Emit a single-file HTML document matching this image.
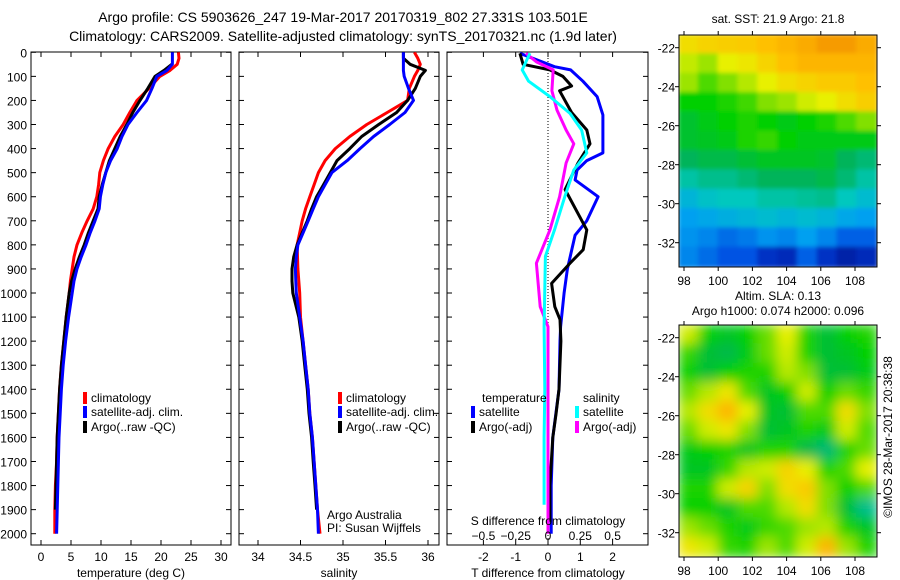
<!DOCTYPE html>
<html><head><meta charset="utf-8">
<style>
html,body{margin:0;padding:0;background:#fff;}
svg{display:block;font-family:"Liberation Sans",sans-serif;}
</style></head>
<body>
<svg id="fig" width="900" height="580" viewBox="0 0 900 580" xmlns="http://www.w3.org/2000/svg">
<defs>
<filter id="blur1" x="0" y="0" width="1" height="1"><feGaussianBlur stdDeviation="2"/></filter>
<filter id="blur2" x="0" y="0" width="1" height="1"><feGaussianBlur stdDeviation="6"/></filter>
<clipPath id="cm1"><rect x="679" y="35" width="198" height="232"/></clipPath>
<clipPath id="cm2"><rect x="679" y="325" width="198" height="232"/></clipPath>
<clipPath id="cp1"><rect x="31" y="52" width="200" height="493"/></clipPath>
<clipPath id="cp2"><rect x="239" y="52" width="200" height="493"/></clipPath>
<clipPath id="cp3"><rect x="447" y="52" width="201" height="493"/></clipPath>
</defs>
<text x="343" y="22" font-size="14" text-anchor="middle">Argo profile: CS 5903626_247 19-Mar-2017 20170319_802 27.331S 103.501E</text>
<text x="343" y="41" font-size="14" text-anchor="middle">Climatology: CARS2009. Satellite-adjusted climatology: synTS_20170321.nc (1.9d later)</text>
<g id="layer"></g>
</svg>
<script>
// ---- profile data ----
const depths = [0,25,50,75,100,150,200,250,300,350,400,450,500,550,600,650,700,750,800,850,900,950,1000,1100,1200,1300,1400,1500,1600,1700,1800,1900,2000];
const tempClim = [22.9,23,22.7,21.5,19.8,18,16,14.8,13.7,12.3,11.2,10.4,9.8,9.6,9.3,8.7,7.7,6.8,6,5.5,5.2,4.9,4.7,4.2,3.8,3.4,3.1,2.9,2.7,2.6,2.4,2.3,2.3];
const tempSat = [21.9,21.9,21.9,21,19.3,18.5,17.6,16,14.5,13.5,12.7,11.6,10.8,10.3,9.9,9.7,9,8.2,7.5,6.7,6,5.5,5.2,4.6,4.1,3.7,3.4,3.2,3.0,2.9,2.8,2.7,2.6];
const tempArgo = [null,null,21.8,20.5,19,17.8,16.5,15.3,14.3,13.2,12.3,11.4,10.8,10.2,9.7,9.5,8.7,7.9,7.2,6.4,5.7,5.1,4.7,4.2,3.8,3.4,3.1,2.9,2.7,2.6,2.5,2.4,null];
const salClim = [35.84,35.88,35.91,35.88,35.84,35.78,35.76,35.52,35.28,35.08,34.91,34.79,34.71,34.66,34.61,34.56,34.52,34.49,34.46,34.465,34.47,34.48,34.49,34.5,34.53,34.56,34.59,34.61,34.64,34.66,34.68,34.7,34.73];
const salSat = [35.71,35.71,35.71,35.71,35.72,35.77,35.83,35.73,35.55,35.36,35.2,35.05,34.87,34.79,34.71,34.65,34.59,34.53,34.47,34.45,34.44,34.445,34.45,34.49,34.53,34.56,34.59,34.61,34.64,34.66,34.68,34.7,34.71];
const salArgo = [35.71,35.71,35.79,35.97,35.91,35.85,35.76,35.63,35.42,35.22,35.08,34.93,34.85,34.77,34.69,34.63,34.58,34.52,34.46,34.42,34.4,34.4,34.41,34.48,34.52,34.55,34.58,34.6,34.63,34.65,34.67,34.69,null];
// difference profiles (own depth arrays)
const dtSatDepth = [4,60,73,120,184,260,418,450,489,530,600,700,760,900,1000,1140,1200,1400,1600,1800,2000];
const dtSatVal = [-0.87,0.2,0.7,1.08,1.52,1.7,1.7,1.2,0.9,0.84,1.55,1.2,0.84,0.6,0.5,0.39,0.37,0.34,0.15,0.1,0.1];
const dtArgoDepth = [4,50,73,100,140,160,250,323,380,460,570,738,820,876,960,1057,1110,1200,1400,1500,1600,1800,1950];
const dtArgoVal = [-0.87,-0.77,0.06,0.46,0.73,0.36,0.73,1.2,1.3,0.93,0.53,1.2,1.09,0.68,0.11,0.21,0.37,0.4,0.34,0.25,0.15,0.06,0.06];
const dsSatDepth = [4,73,120,184,254,323,418,489,600,738,848,1140,1400,1600,1880];
const dsSatVal = [-0.14,-0.2,-0.15,0.015,0.17,0.26,0.3,0.2,0.13,0.05,-0.02,-0.03,-0.025,-0.03,-0.03];
const dsArgoDepth = [4,40,73,160,240,323,380,460,600,738,876,1057,1140,1400,1700,2000];
const dsArgoVal = [-0.17,-0.09,0.04,0.03,0.07,0.14,0.2,0.14,0.09,0.015,-0.09,-0.06,0,0,0,0];
// axis tick labels
const depthTicks = [0,100,200,300,400,500,600,700,800,900,1000,1100,1200,1300,1400,1500,1600,1700,1800,1900,2000];
const tempTicks = [0,5,10,15,20,25,30];
const salTicks = [34,34.5,35,35.5,36];
const dtTicks = [-2,-1,0,1,2];
const dsTicks = [-0.5,-0.25,0,0.25,0.5];
const lonTicks = [98,100,102,104,106,108];
const latTicks = [-22,-24,-26,-28,-30,-32];
// map grids (row 0 = north)
const sstGrid = [
[.82,.84,.85,.86,.88,.9,.92,.95,.95,.92],
[.75,.72,.78,.8,.84,.88,.9,.9,.9,.9],
[.72,.66,.7,.74,.78,.82,.84,.86,.86,.88],
[.6,.6,.62,.65,.7,.72,.76,.78,.82,.85],
[.55,.58,.6,.62,.6,.58,.6,.62,.66,.7],
[.55,.56,.58,.62,.64,.6,.58,.58,.58,.58],
[.5,.52,.52,.54,.56,.56,.56,.55,.5,.48],
[.44,.46,.46,.48,.5,.5,.5,.52,.48,.44],
[.36,.4,.42,.42,.44,.44,.45,.46,.42,.38],
[.3,.32,.34,.36,.38,.36,.38,.36,.32,.3],
[.28,.26,.22,.24,.28,.26,.3,.26,.2,.2],
[.26,.22,.18,.18,.1,.08,.2,.1,.05,.08]];
const slaGrid = [
[.76,.6,.56,.6,.68,.78,.62,.54,.6,.62],
[.64,.54,.52,.58,.68,.76,.62,.54,.56,.6],
[.6,.54,.6,.62,.62,.74,.7,.54,.54,.58],
[.68,.74,.8,.66,.56,.6,.76,.6,.68,.64],
[.74,.82,.9,.78,.56,.54,.66,.66,.82,.7],
[.68,.76,.8,.7,.54,.56,.62,.58,.76,.66],
[.58,.6,.62,.56,.62,.62,.52,.48,.62,.68],
[.56,.56,.64,.74,.76,.84,.78,.62,.66,.78],
[.62,.62,.76,.84,.7,.82,.86,.7,.6,.66],
[.6,.6,.56,.66,.66,.74,.82,.7,.54,.46],
[.72,.68,.62,.58,.64,.66,.72,.74,.62,.56],
[.8,.76,.64,.62,.72,.66,.76,.9,.72,.62]];

const NS="http://www.w3.org/2000/svg";
const layer=document.getElementById('layer');
function mk(tag,attrs,parent){const e=document.createElementNS(NS,tag);for(const k in attrs)e.setAttribute(k,attrs[k]);(parent||layer).appendChild(e);return e;}
function txt(x,y,s,size,anchor,parent){const t=mk('text',{x:x,y:y,'font-size':size,'text-anchor':anchor||'middle'},parent);t.textContent=s;return t;}

const yD = d => 52.3 + d*0.2407;
const xT = v => 41 + v*6.0;
const xS = v => 258 + (v-34)*85;
const xDT = v => 548 + v*32.3;
const xDS = v => 548 + v*129.2;
const TOP=52, BOT=545;

function frame(x0,x1,name){
  const r=mk('rect',{x:x0,y:TOP,width:x1-x0,height:BOT-TOP,fill:'none',stroke:'#000','stroke-width':1});
  
  
  depthTicks.forEach(d=>{const y=yD(d);mk('line',{x1:x0,x2:x0+5,y1:y,y2:y,stroke:'#000'});mk('line',{x1:x1-5,x2:x1,y1:y,y2:y,stroke:'#000'});});
}
function xticks(vals,fx,labelPrefix){
  vals.forEach(v=>{const x=fx(v);mk('line',{x1:x,x2:x,y1:BOT,y2:BOT-5,stroke:'#000'});mk('line',{x1:x,x2:x,y1:TOP,y2:TOP+5,stroke:'#000'});
    const t=txt(x,561,String(v),12);});
}
function line(ds,vs,fx,color,w,clip,name){
  let pts=[];
  for(let i=0;i<ds.length;i++){if(vs[i]==null)continue;pts.push(fx(vs[i]).toFixed(1)+','+yD(ds[i]).toFixed(1));}
  const p=mk('polyline',{points:pts.join(' '),fill:'none',stroke:color,'stroke-width':w,'stroke-linejoin':'round','clip-path':'url(#'+clip+')'});
  
  
}
function legendItem(x,y,color,label,name){
  const g=mk('g',{});
  
  
  mk('rect',{x:x,y:y-10,width:4,height:12,fill:color},g);
  txt(x+8,y,label,12,'start',g);
}

// Panel 1 temperature
frame(31,231,'temperature-panel');
depthTicks.forEach(d=>{const t=txt(27,yD(d)+5,String(d),12,'end');});
xticks(tempTicks,xT,'temperature');
line(depths,tempClim,xT,'#ff0000',3,'cp1','temperature-climatology-line');
line(depths,tempArgo,xT,'#000000',3,'cp1','temperature-argo-line');
line(depths,tempSat,xT,'#0000ff',3,'cp1','temperature-satellite-line');
let xl=txt(131,577,'temperature (deg C)',12);
legendItem(83,402,'#ff0000','climatology','legend-climatology');
legendItem(83,416,'#0000ff','satellite-adj. clim.','legend-satellite');
legendItem(83,431,'#000000','Argo(..raw -QC)','legend-argo');

// Panel 2 salinity
frame(239,439,'salinity-panel');
xticks(salTicks,xS,'salinity');
line(depths,salClim,xS,'#ff0000',3,'cp2','salinity-climatology-line');
line(depths,salArgo,xS,'#000000',3,'cp2','salinity-argo-line');
line(depths,salSat,xS,'#0000ff',3,'cp2','salinity-satellite-line');
xl=txt(339,577,'salinity',12);
legendItem(338,402,'#ff0000','climatology','legend-climatology-2');
legendItem(338,416,'#0000ff','satellite-adj. clim.','legend-satellite-2');
legendItem(338,431,'#000000','Argo(..raw -QC)','legend-argo-2');
let a1=txt(327,519,'Argo Australia',12,'start');
let a2=txt(327,532,'PI: Susan Wijffels',12,'start');

// Panel 3 differences
frame(447,648,'difference-panel');
xticks(dtTicks,xDT,'t-difference');
mk('line',{x1:548,x2:548,y1:TOP,y2:BOT,stroke:'#000','stroke-dasharray':'1,2'});
line(dtSatDepth,dtSatVal,xDT,'#0000ff',3,'cp3','t-diff-satellite-line');
line(dtArgoDepth,dtArgoVal,xDT,'#000000',3,'cp3','t-diff-argo-line');
line(dsArgoDepth,dsArgoVal,xDS,'#ff00ff',3,'cp3','s-diff-argo-line');
line(dsSatDepth,dsSatVal,xDS,'#00ffff',3,'cp3','s-diff-satellite-line');
dsTicks.forEach(v=>{const t=txt(xDS(v),540,String(v).replace('-','\u2212'),12);});
xl=txt(548,525,'S difference from climatology',12);
xl=txt(548,577,'T difference from climatology',12);
let lh=txt(482,402,'temperature',12,'start');
lh=txt(583,402,'salinity',12,'start');
legendItem(471,416,'#0000ff','satellite','legend-t-satellite');
legendItem(471,431,'#000000','Argo(-adj)','legend-t-argo');
legendItem(575,416,'#00ffff','satellite','legend-s-satellite');
legendItem(575,431,'#ff00ff','Argo(-adj)','legend-s-argo');

// ---- maps ----
const cstops=[[0,[0,16,140]],[0.15,[0,64,224]],[0.3,[0,160,240]],[0.42,[0,200,190]],[0.5,[0,180,90]],[0.6,[0,208,0]],[0.7,[130,224,0]],[0.78,[232,240,0]],[0.88,[255,192,0]],[1,[240,128,0]]];
function cmap(v){for(let i=1;i<cstops.length;i++){if(v<=cstops[i][0]){const a=cstops[i-1],b=cstops[i];const f=(v-a[0])/(b[0]-a[0]);const c=a[1].map((x,j)=>Math.round(x+(b[1][j]-x)*f));return 'rgb('+c.join(',')+')';}}return 'rgb(240,128,0)';}
const lonX = lon => 684 + (lon-98)*17.1;
function drawMap(grid,y0,clip,filt,name,title1,title2){
  const latY = lat => y0 + 12.7 + (-lat-22)*19.5;
  const g=mk('g',{'clip-path':'url(#'+clip+')'});
  
  
  const inner=mk('g',{filter:'url(#'+filt+')'},g);
  const nr=grid.length,nc=grid[0].length,cw=198/nc,ch=232/nr;
  for(let r=0;r<nr;r++)for(let c=0;c<nc;c++){
    const cell=mk('rect',{x:(679+c*cw-1).toFixed(1),y:(y0+r*ch-1).toFixed(1),width:(cw+2).toFixed(1),height:(ch+2).toFixed(1),fill:cmap(grid[r][c])},inner);
    
    
  }
  const f=mk('rect',{x:679,y:y0,width:198,height:232,fill:'none',stroke:'#000'});
  
  
  lonTicks.forEach(l=>{const x=lonX(l);mk('line',{x1:x,x2:x,y1:y0,y2:y0-4,stroke:'#000'});mk('line',{x1:x,x2:x,y1:y0+232,y2:y0+236,stroke:'#000'});
    const t=txt(x,y0+250,String(l),12);});
  latTicks.forEach(l=>{const y=latY(l);mk('line',{x1:675,x2:679,y1:y,y2:y,stroke:'#000'});mk('line',{x1:877,x2:881,y1:y,y2:y,stroke:'#000'});
    const t=txt(675,y+5,String(l),12,'end');});
  if(title1){const t=txt(778,title2?y0-25:y0-12,title1,12);}
  if(title2){const t=txt(778,y0-10,title2,12);}
}
drawMap(sstGrid,35,'cm1','blur1','sst-map','sat. SST: 21.9 Argo: 21.8');
drawMap(slaGrid,325,'cm2','blur2','sla-map','Altim. SLA: 0.13','Argo h1000: 0.074 h2000: 0.096');
const st=txt(0,0,'\u00A9IMOS 28-Mar-2017 20:38:38',12);
st.setAttribute('transform','translate(892,437) rotate(-90)');


</script>
</body></html>
